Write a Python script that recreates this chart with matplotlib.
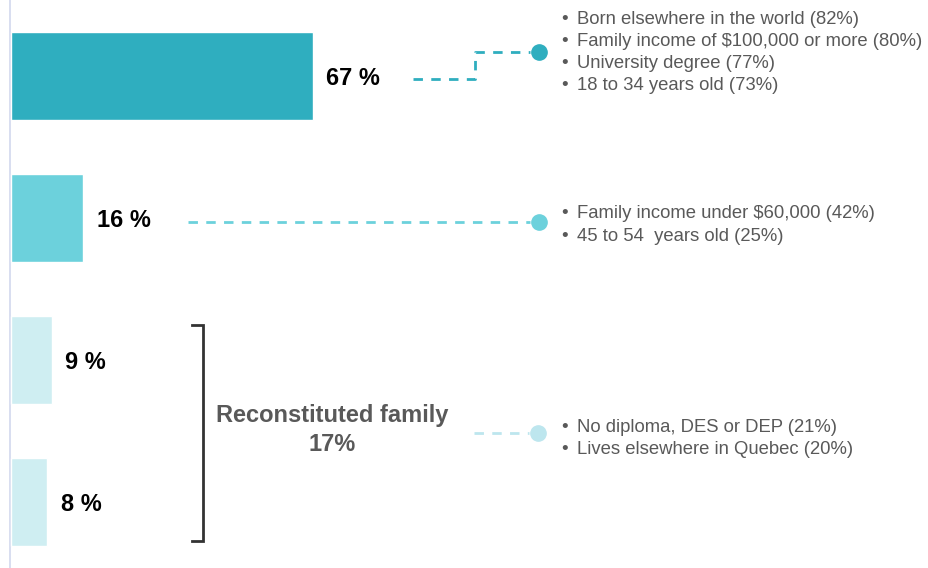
import matplotlib.pyplot as plt

plt.rcParams['font.family'] = ['Liberation Sans', 'DejaVu Sans']

# Family types (bar order from top) and their shares
shares = [67, 16, 9, 8]
bar_colors = ["#2FAEBF", "#6CD1DC", "#CFEEF2", "#CFEEF2"]

group_label = "Reconstituted family"
group_share = 17

# Profile traits shown to the right of each group
traits_1 = ["Born elsewhere in the world (82%)",
            "Family income of $100,000 or more (80%)",
            "University degree (77%)",
            "18 to 34 years old (73%)"]
traits_2 = ["Family income under $60,000 (42%)",
            "45 to 54  years old (25%)"]
traits_3 = ["No diploma, DES or DEP (21%)",
            "Lives elsewhere in Quebec (20%)"]

grey = "#595959"
px = 4.5   # pixels per percent point
x0 = 11.5  # pixel where the bars start

fig = plt.figure(figsize=(9.29, 5.68), dpi=100)
ax = fig.add_axes([0, 0, 1, 1])
ax.set_xlim(-x0 / px, (929 - x0) / px)
ax.set_ylim((568 - 76) / 142, -76 / 142)
ax.axis("off")


def X(p):
    # pixel column -> data x
    return (p - x0) / px


def Y(p):
    # pixel row -> data y
    return (p - 76) / 142


ypos = list(range(len(shares)))
ax.axvline(X(10), color="#D8DEF0", lw=1.4, zorder=1)
ax.barh(ypos, shares, height=0.62, color=bar_colors,
        edgecolor="white", linewidth=1, zorder=2)

for y, v in zip(ypos, shares):
    ax.text(v + 3, y + 0.02, f"{v} %", fontsize=17, fontweight="bold",
            color="black", va="center", ha="left")

# bracket around the two reconstituted-family bars
ax.plot([X(192), X(203), X(203), X(192)], [Y(325), Y(325), Y(541), Y(541)],
        color="#333333", lw=2, solid_joinstyle="miter")
ax.text(X(332), Y(430), f"{group_label}\n{group_share}%", fontsize=17,
        fontweight="bold", color=grey, ha="center", va="center",
        linespacing=1.35)

dot_x = X(539)
dash = dict(ls=(0, (3.4, 3.0)), lw=2)

# connector 1 (elbow)
c1 = bar_colors[0]
ax.plot([X(413), X(475), X(475), X(530)], [Y(79), Y(79), Y(52), Y(52)],
        color=c1, **dash)
ax.plot(dot_x, Y(52), "o", ms=11, color=c1)

# connector 2
c2 = bar_colors[1]
ax.plot([X(188), X(530)], [Y(222), Y(222)], color=c2, **dash)
ax.plot(dot_x, Y(222), "o", ms=11, color=c2)

# connector 3
c3 = "#BDE6EE"
ax.plot([X(474), X(529)], [Y(433), Y(433)], color=c3, **dash)
ax.plot(X(538), Y(433), "o", ms=11, color=c3)


def bullets(lines, top, step=22.3):
    for i, t in enumerate(lines):
        y = Y(top + i * step)
        ax.text(X(561), y, "\u2022", fontsize=13.5, color=grey,
                ha="left", va="center")
        ax.text(X(577), y, t, fontsize=13.3, color=grey,
                ha="left", va="center")


bullets(traits_1, 19)
bullets(traits_2, 214)
bullets(traits_3, 427)

fig.savefig("out.png", dpi=100)
